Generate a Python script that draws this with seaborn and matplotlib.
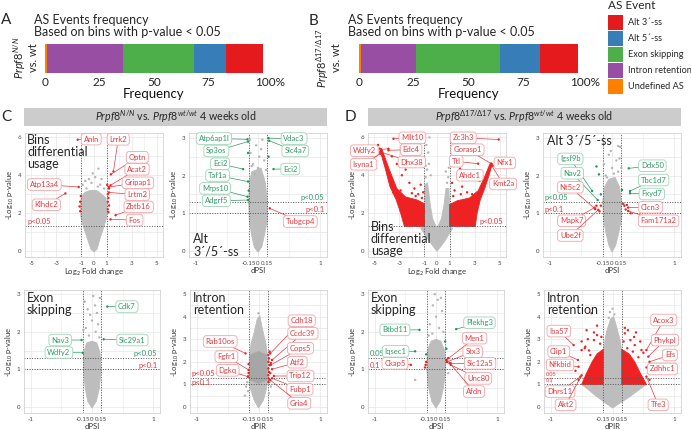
import matplotlib
matplotlib.use("Agg")
import matplotlib.pyplot as plt
import matplotlib.transforms as mtransforms
from matplotlib.patches import Rectangle
import numpy as np
import pandas as pd
import seaborn as sns

# ------------------------------------------------------------------ data
event_names = ["Alt 3´-ss", "Alt 5´-ss", "Exon skipping", "Intron retention", "Undefined AS"]
event_colors = ["#E41A1C", "#377EB8", "#4DAF4A", "#984EA3", "#FF7F00"]
stack_order = ["Undefined AS", "Intron retention", "Exon skipping", "Alt 5´-ss", "Alt 3´-ss"]
freq_NN = [17.0, 14.7, 32.5, 35.0, 0.8]
freq_D17 = [17.4, 18.2, 38.6, 25.0, 0.8]
freq_ticks = [0, 25, 50, 75, 100]
freq_ticklabels = ["0", "25", "50", "75", "100%"]

# ---- C1: bins differential usage, N/N
c1_cloud_x = [0.0, -0.25, -0.55, -0.85, -1.05, -1.08, -1.0, -0.7, -0.3, 0.2, 0.6, 0.95, 1.05, 1.02, 0.8, 0.5, 0.25]
c1_cloud_y = [-0.05, 0.1, 0.7, 1.3, 1.8, 2.5, 2.9, 3.1, 3.2, 3.2, 3.0, 2.8, 2.3, 1.8, 1.3, 0.7, 0.1]
c1_gray_x = [-0.6, 0.3, -0.2, 0.5, -0.9, 0.8, 0.1, -0.4, 0.35, -0.1, 0.6, -0.7]
c1_gray_y = [3.3, 3.4, 3.6, 3.5, 3.5, 3.3, 3.9, 3.8, 4.35, 4.1, 3.8, 3.7]
c1_red_x = [-1.05, -1.1, -1.15, -1.1, 1.1, 1.15, 1.1, 1.2, 1.1, 1.15, 1.2, 1.05]
c1_red_y = [2.9, 2.6, 2.35, 2.1, 3.0, 2.8, 2.6, 2.4, 2.2, 2.05, 3.3, 3.5]
c1_lab_names = ["Anln", "Lrrk2", "Optn", "Acat2", "Gripap1", "Lrtm2", "Zbtb16", "Fos", "Atp13a4", "Klhdc2"]
c1_lab_x = [-0.22, 1.93, 3.45, 3.43, 3.5, 3.45, 3.56, 3.24, -3.96, -3.8]
c1_lab_y = [5.91, 5.9, 4.95, 4.32, 3.6, 2.98, 2.33, 1.63, 3.51, 2.44]
c1_pt_x = [-1.3, 1.55, 1.35, 1.32, 1.19, 1.19, 1.72, 1.32, -1.22, -2.28]
c1_pt_y = [5.88, 4.2, 4.05, 3.47, 3.38, 3.09, 1.89, 1.67, 3.38, 3.04]
c1_lab_col = ["r"] * 10

# ---- C2: alt 3'/5' splice sites, N/N
c2_cloud_x = [0.0, -0.06, -0.1, -0.14, -0.15, -0.14, -0.1, 0.05, 0.12, 0.15, 0.15, 0.1, 0.06]
c2_cloud_y = [-0.03, 0.1, 0.4, 0.8, 1.3, 1.8, 2.1, 2.2, 1.8, 1.3, 0.8, 0.4, 0.1]
c2_gray_x = [-0.08, 0.02, -0.12, 0.1, -0.03, 0.07, -0.13, 0.0, 0.13, -0.05, 0.05, -0.1]
c2_gray_y = [2.3, 2.5, 2.6, 2.4, 2.8, 2.95, 2.95, 2.2, 2.15, 2.05, 2.7, 2.25]
c2_green_x = [-0.16, 0.17, -0.15]
c2_green_y = [2.6, 2.5, 1.6]
c2_lab_names = ["Atp6ap1l", "Sp3os", "Eci2", "Taf1a", "Mrps10", "Adgrf5", "Vdac3", "Slc4a7", "Eci2", "Tubgcp4"]
c2_lab_x = [-0.71, -0.67, -0.61, -0.65, -0.69, -0.67, 0.58, 0.6, 0.52, 0.68]
c2_lab_y = [2.98, 2.65, 2.31, 2.0, 1.66, 1.33, 2.98, 2.65, 2.17, 0.78]
c2_pt_x = [-0.17, -0.16, -0.24, -0.16, -0.17, -0.16, 0.17, 0.18, 0.25, 0.19]
c2_pt_y = [2.96, 2.9, 2.17, 1.84, 1.44, 1.35, 2.99, 2.92, 2.17, 1.13]
c2_lab_col = ["g"] * 9 + ["r"]

# ---- C3: exon skipping, N/N
c3_cloud_x = [0.0, -0.07, -0.11, -0.14, -0.13, -0.09, 0.0, 0.08, 0.13, 0.15, 0.12, 0.07]
c3_cloud_y = [-0.03, 0.15, 0.5, 1.0, 1.45, 1.7, 1.75, 1.7, 1.45, 1.0, 0.5, 0.15]
c3_gray_x = [-0.05, 0.06, -0.1, 0.1, 0.0, -0.07, 0.05, -0.12, 0.13, 0.02, -0.03, 0.12, -0.14, 0.08]
c3_gray_y = [1.9, 2.0, 2.1, 2.2, 2.3, 2.6, 2.7, 2.8, 2.9, 2.95, 2.45, 1.85, 2.05, 2.5]
c3_lab_names = ["Cdk7", "Nav3", "Slc29a1", "Wdfy2"]
c3_lab_x = [0.57, -0.52, 0.66, -0.54]
c3_lab_y = [2.67, 1.78, 1.78, 1.45]
c3_pt_x = [0.25, -0.17, 0.19, -0.15]
c3_pt_y = [2.67, 1.78, 1.8, 1.44]
c3_lab_col = ["g"] * 4

# ---- C4: intron retention, N/N
c4_cloud_x = [0.0, -0.07, -0.13, -0.15, -0.15, -0.12, -0.07, -0.02, 0.02, 0.06, 0.12, 0.15, 0.15, 0.13, 0.08]
c4_cloud_y = [-0.05, 0.3, 0.8, 1.3, 2.2, 2.8, 3.3, 3.9, 4.05, 3.5, 2.8, 2.2, 1.3, 0.8, 0.3]
c4_core_x = [-0.14, -0.13, 0.0, 0.13, 0.14, 0.0]
c4_core_y = [1.2, 2.3, 2.45, 2.3, 1.2, 1.05]
c4_gray_x = [-0.18, -0.2, -0.17, -0.22, 0.18, 0.2, 0.17, 0.0]
c4_gray_y = [1.1, 0.9, 0.7, 0.5, 1.1, 0.9, 0.6, 4.15]
c4_red_x = [0.16, 0.17, 0.16, 0.18, 0.16, 0.17, 0.16, 0.18, 0.19, 0.2, 0.16, 0.17, -0.16, -0.17, -0.16]
c4_red_y = [1.4, 1.55, 1.7, 1.85, 2.0, 2.15, 2.3, 2.45, 1.5, 1.95, 1.1, 1.25, 1.5, 1.35, 1.9]
c4_lab_names = ["Cdh18", "Ccdc39", "Cops5", "Atf2", "Trip12", "Fubp1", "Gria4", "Rab10os", "Fgfr1", "Dgkq"]
c4_lab_x = [0.7, 0.72, 0.68, 0.63, 0.68, 0.67, 0.66, -0.62, -0.52, -0.5]
c4_lab_y = [3.82, 3.26, 2.6, 1.98, 1.37, 0.78, 0.16, 2.9, 2.23, 1.62]
c4_pt_x = [0.19, 0.22, 0.2, 0.22, 0.25, 0.22, 0.19, -0.21, -0.16, -0.17]
c4_pt_y = [2.37, 2.08, 1.86, 1.67, 1.37, 1.27, 1.19, 2.37, 1.64, 1.34]
c4_lab_col = ["r"] * 10

# ---- D1: bins differential usage, d17/d17
d1_cloud_x = [0.0, -0.6, -1.3, -1.0, -1.0, -0.97, -0.75, -0.55, -0.35, 0.0, 0.35, 0.55, 0.72, 0.95, 1.0, 1.0, 1.25, 0.6]
d1_cloud_y = [-0.02, 0.5, 1.2, 1.3, 2.4, 3.5, 3.6, 2.5, 1.7, 1.2, 1.7, 2.4, 3.3, 3.3, 2.4, 1.3, 1.2, 0.5]
d1_redL_x = [-1.0, -2.6, -2.9, -3.25, -3.75, -4.1, -4.6, -4.4, -3.8, -3.2, -2.5, -1.6, -1.0]
d1_redL_y = [1.3, 1.3, 2.0, 2.7, 3.4, 4.3, 5.45, 5.4, 4.3, 3.3, 2.85, 2.7, 2.5]
d1_redR_x = [1.0, 3.05, 3.2, 3.45, 3.8, 4.15, 4.4, 4.25, 3.85, 3.3, 2.6, 1.6, 1.0]
d1_redR_y = [1.3, 1.3, 2.0, 2.7, 3.3, 4.0, 4.6, 4.65, 4.0, 3.2, 2.8, 2.65, 2.45]
d1_gray_x = [-0.9, -0.8, -0.95, -0.7, -0.85, -0.6, -0.9, 0.8, 0.9, 0.7, 0.95, -0.5, -0.65]
d1_gray_y = [3.9, 4.3, 4.8, 5.2, 5.6, 6.0, 4.5, 3.6, 3.9, 4.2, 4.4, 4.0, 4.6]
d1_red_x = [-3.2, -2.8, -2.2, -1.8, -1.3, -1.1, 2.5, 2.0, 1.4, 1.2, 3.0, -4.7, -3.6, -2.5, 1.8,
            -1.2, -1.5, -2.0, -2.9, 1.3, 1.9, 2.4, 3.4, -3.5, -3.0, -1.7, 2.8]
d1_red_y = [4.6, 4.0, 3.6, 3.3, 3.5, 3.1, 3.8, 3.4, 3.2, 3.6, 4.2, 5.6, 5.0, 4.3, 3.9,
            2.8, 3.0, 3.05, 3.2, 2.9, 3.0, 3.1, 3.7, 3.1, 2.6, 2.9, 3.0]
d1_lab_names = ["Mllt10", "Wdfy2", "Edc4", "Dhx38", "Isyna1", "Zc3h3", "Gorasp1", "Ttl", "Nfx1", "Ahdc1", "Kmt2a"]
d1_lab_x = [-1.96, -5.79, -2.06, -2.01, -5.85, 2.09, 2.43, 1.53, 5.4, 2.62, 5.27]
d1_lab_y = [5.98, 5.3, 5.35, 4.7, 4.58, 5.98, 5.35, 4.74, 4.65, 4.0, 3.54]
d1_pt_x = [-3.47, -3.87, -3.87, -4.52, -4.52, 4.92, 4.34, 3.28, 4.45, 1.83, 4.34]
d1_pt_y = [5.93, 5.4, 5.32, 5.23, 5.14, 5.89, 4.61, 4.61, 4.5, 4.35, 4.53]
d1_lab_col = ["r"] * 11

# ---- D2: alt 3'/5' splice sites, d17/d17
d2_cloud_x = [0.0, -0.05, -0.1, -0.14, -0.15, -0.12, -0.05, 0.05, 0.12, 0.15, 0.16, 0.11, 0.06]
d2_cloud_y = [-0.03, 0.15, 0.5, 0.9, 1.3, 1.7, 1.9, 1.95, 1.7, 1.3, 0.9, 0.5, 0.15]
d2_gray_x = [0.1, 0.13, -0.1, 0.0, 0.07, -0.05, 0.1, -0.13, 0.03, -0.08, 0.15, 0.12, -0.02]
d2_gray_y = [2.78, 2.76, 2.0, 2.2, 2.4, 2.55, 2.1, 2.3, 2.05, 1.95, 2.2, 2.45, 2.65]
d2_green_x = [-0.25, -0.21, -0.18, 0.16]
d2_green_y = [2.24, 2.03, 1.5, 1.62]
d2_red_x = [-0.25, -0.2, -0.18, 0.2, 0.22, 0.18, 0.3, 0.24]
d2_red_y = [1.2, 1.05, 1.2, 1.2, 1.1, 1.25, 1.0, 1.22]
d2_lab_names = ["Igsf9b", "Nav2", "Nt5c2", "Mapk7", "Ube2f", "Ddx50", "Tbc1d7", "Fxyd7", "Clcn3", "Fam171a2"]
d2_lab_x = [-0.67, -0.64, -0.67, -0.65, -0.67, 0.65, 0.67, 0.64, 0.62, 0.75]
d2_lab_y = [2.44, 2.06, 1.69, 0.8, 0.41, 2.26, 1.88, 1.51, 1.16, 0.8]
d2_pt_x = [-0.32, -0.23, -0.27, -0.28, -0.22, 0.27, 0.29, 0.29, 0.26, 0.26]
d2_pt_y = [1.59, 1.35, 1.11, 1.15, 1.09, 2.19, 1.59, 1.53, 1.15, 1.06]
d2_lab_col = ["g", "g", "r", "r", "r", "g", "g", "g", "r", "r"]

# ---- D3: exon skipping, d17/d17
d3_cloud_x = [0.0, -0.07, -0.12, -0.15, -0.14, -0.08, 0.0, 0.08, 0.14, 0.16, 0.12, 0.07]
d3_cloud_y = [-0.03, 0.15, 0.5, 1.0, 1.5, 1.75, 1.8, 1.75, 1.5, 1.0, 0.5, 0.15]
d3_gray_x = [-0.02, 0.08, -0.05, 0.1, 0.0, -0.1, 0.05, -0.06, 0.12, -0.12, -0.34, 0.2, 0.03]
d3_gray_y = [3.0, 2.9, 2.7, 2.55, 2.4, 2.2, 2.1, 1.95, 2.0, 1.9, 0.72, 0.9, 2.85]
d3_green_x = [0.15, 0.17, -0.16]
d3_green_y = [1.74, 1.55, 1.4]
d3_red_x = [-0.16, -0.18, 0.17, 0.18, 0.2, -0.17]
d3_red_y = [1.2, 1.05, 1.25, 1.2, 1.3, 1.12]
d3_lab_names = ["Btbd11", "Iqsec1", "Ckap5", "Plekhg3", "Men1", "Stx3", "Slc12a5", "Unc80", "Afdn"]
d3_lab_x = [-0.67, -0.66, -0.67, 0.71, 0.63, 0.6, 0.72, 0.69, 0.62]
d3_lab_y = [2.05, 1.48, 1.16, 2.24, 1.83, 1.47, 1.16, 0.76, 0.41]
d3_pt_x = [-0.27, -0.34, -0.41, 0.33, 0.17, 0.18, 0.24, 0.24, 0.22]
d3_pt_y = [2.05, 1.48, 1.12, 2.07, 1.25, 1.2, 1.16, 1.12, 1.17]
d3_lab_col = ["g", "g", "r", "g", "r", "r", "r", "r", "r"]

# ---- D4: intron retention, d17/d17
d4_cloud_x = [0.0, -0.25, -0.5, -0.15, -0.15, -0.1, -0.03, 0.02, 0.06, 0.12, 0.15, 0.15, 0.55, 0.28]
d4_cloud_y = [-0.05, 0.45, 1.0, 1.0, 2.5, 3.3, 3.9, 4.0, 3.6, 3.0, 2.5, 1.0, 1.0, 0.45]
d4_redL_x = [-0.15, -0.5, -0.42, -0.33, -0.25, -0.15]
d4_redL_y = [1.0, 1.0, 1.5, 2.0, 2.35, 2.55]
d4_redR_x = [0.15, 0.55, 0.45, 0.36, 0.27, 0.15]
d4_redR_y = [1.0, 1.0, 1.5, 2.0, 2.35, 2.55]
d4_gray_x = [0.0, -0.04, 0.03, -0.06]
d4_gray_y = [4.35, 4.2, 4.1, 3.95]
d4_red_x = [-0.34, -0.4, -0.45, -0.3, -0.25, 0.45, 0.35, 0.25, 0.5, 0.2, -0.5, -0.6, -0.55, 0.62, 0.6,
            -0.42, 0.38, -0.44, -0.5, -0.3, -0.25, 0.47, 0.29, 0.36, 0.2, -0.2, -0.18, 0.18, 0.24, -0.36,
            0.42, -0.38, 0.33]
d4_red_y = [4.15, 3.0, 2.6, 3.3, 3.6, 2.9, 3.1, 3.4, 2.4, 3.5, 2.9, 1.6, 1.2, 1.5, 1.2,
            3.4, 3.3, 2.67, 2.52, 2.96, 3.18, 2.52, 2.96, 2.74, 3.26, 2.8, 3.1, 2.9, 2.6, 2.3,
            2.2, 2.5, 2.45]
d4_lab_names = ["Iba57", "Clip1", "Nfkbid", "Dhrs11", "Akt2", "Acox3", "Phykpl", "Efs", "Zdhhc1", "Tfe3"]
d4_lab_x = [-0.87, -0.87, -0.85, -0.85, -0.76, 0.83, 0.85, 0.93, 0.81, 0.74]
d4_lab_y = [3.36, 2.45, 1.86, 0.68, 0.09, 3.85, 2.96, 2.3, 1.68, 0.09]
d4_pt_x = [-0.63, -0.56, -0.55, -0.52, -0.5, 0.55, 0.58, 0.6, 0.55, 0.55]
d4_pt_y = [2.74, 2.08, 1.78, 1.34, 1.4, 2.52, 2.23, 2.0, 1.75, 1.34]
d4_lab_col = ["r"] * 10

# ------------------------------------------------------------------ style
sns.set_theme(style="white")
plt.rcParams["font.family"] = ["Lato", "DejaVu Sans"]
plt.rcParams["mathtext.fontset"] = "custom"
plt.rcParams["mathtext.rm"] = "Lato"
plt.rcParams["mathtext.it"] = "Lato:italic"
plt.rcParams["mathtext.bf"] = "Lato:bold"

RED_T, RED_E, RED_P = "#E8383D", "#F4A3A5", "#EE2222"
GRN_T, GRN_E, GRN_P = "#2E9B66", "#9ED5B7", "#1A9850"
GRAY_P = "#B5B5B5"
W, H = 691, 430

fig = plt.figure(figsize=(W / 100, H / 100), dpi=100)
fig.patch.set_facecolor("white")


def rect(x0, y0, x1, y1):
    return [x0 / W, 1 - y1 / H, (x1 - x0) / W, (y1 - y0) / H]


# ------------------------------------------------------------------ bar charts
def draw_bar(ax, freqs):
    vals = dict(zip(event_names, freqs))
    cols = dict(zip(event_names, event_colors))
    cum, cums = 0.0, []
    for nm in stack_order:
        cum += vals[nm]
        cums.append((nm, cum))
    for nm, c in reversed(cums):
        df = pd.DataFrame({"sample": ["s"], "value": [c]})
        sns.barplot(data=df, x="value", y="sample", color=cols[nm], width=1.0,
                    saturation=1, ax=ax, orient="h", linewidth=0, errorbar=None)
    ax.set_xlim(0, 100)
    ax.set_ylim(0.5, -0.5)
    ax.set_yticks([])
    ax.set_ylabel("")
    ax.set_xticks(freq_ticks, freq_ticklabels)
    ax.tick_params(axis="x", length=0, pad=3, labelsize=8.5, labelcolor="#222222")
    lab = ax.get_xticklabels()[-1]
    lab.set_transform(lab.get_transform() + mtransforms.ScaledTranslation(0.07, 0, fig.dpi_scale_trans))
    ax.set_xlabel("Frequency", fontsize=9.5, labelpad=0, color="#111111")
    for s in ax.spines.values():
        s.set_visible(False)


axA = fig.add_axes(rect(45, 44, 263, 73))
draw_bar(axA, freq_NN)
axB = fig.add_axes(rect(359, 44, 578, 73))
draw_bar(axB, freq_D17)

title_txt = "AS Events frequency\nBased on bins with p-value < 0.05"
fig.text(34 / W, 1 - 26 / H, title_txt, fontsize=9, va="center", ha="left", linespacing=0.95)
fig.text(348 / W, 1 - 26 / H, title_txt, fontsize=9, va="center", ha="left", linespacing=0.95)

fig.text(25 / W, 1 - 58 / H, r"$\mathit{Prpf8}^{\mathit{N/N}}$" + "\nvs. wt", rotation=90,
         ha="center", va="center", fontsize=8, linespacing=0.95, multialignment="center")
fig.text(328 / W, 1 - 58 / H, r"$\mathit{Prpf8}^{\mathit{\Delta 17/\Delta 17}}$" + "\nvs. wt", rotation=90,
         ha="center", va="center", fontsize=8, linespacing=0.95, multialignment="center")

# legend
fig.text(608 / W, 1 - 5.5 / H, "AS Event", fontsize=8.5, ha="left", va="center")
for i, (nm, col) in enumerate(zip(event_names, event_colors)):
    top = 15 + 16 * i
    fig.add_artist(Rectangle((608 / W, 1 - (top + 14.5) / H), 15 / W, 14.5 / H,
                             transform=fig.transFigure, facecolor=col, edgecolor="none"))
    fig.text(628 / W, 1 - (top + 7.5) / H, nm, fontsize=6.6, ha="left", va="center")

# panel letters
for letter, (x, y) in {"A": (6, 20), "B": (313, 21), "C": (6, 117), "D": (350, 117)}.items():
    fig.text(x / W, 1 - y / H, letter, fontsize=11, ha="center", va="center")

# headers
fig.add_artist(Rectangle((24 / W, 1 - 126 / H), 303 / W, 18 / H, transform=fig.transFigure,
                         facecolor="#CCCCCC", edgecolor="none"))
fig.text(175.5 / W, 1 - 117 / H, r"$\mathit{Prpf8}^{\mathit{N/N}}$ vs. $\mathit{Prpf8}^{\mathit{wt/wt}}$ 4 weeks old",
         fontsize=7.7, ha="center", va="center")
fig.add_artist(Rectangle((368 / W, 1 - 126 / H), 313 / W, 18 / H, transform=fig.transFigure,
                         facecolor="#CCCCCC", edgecolor="none"))
fig.text(524.5 / W, 1 - 117 / H,
         r"$\mathit{Prpf8}^{\mathit{\Delta 17/\Delta 17}}$ vs. $\mathit{Prpf8}^{\mathit{wt/wt}}$ 4 weeks old",
         fontsize=7.7, ha="center", va="center")


# ------------------------------------------------------------------ volcano helpers
def setup_volcano(ax, kind, ylim, yticks):
    if kind == "bins":
        ax.set_xlim(-5.5, 5.5)
        ax.set_xticks([-5, -3, -1, 0, 1, 3, 5], ["-5", "-3", "-1", "0", "1", "3", "5"])
        minor_x = [-4, -2, 2, 4]
        vl = [-1, 1]
        hl = [1.301]
        xl = "Log$_2$ Fold change"
    else:
        ax.set_xlim(-1.11, 1.11)
        ax.set_xticks([-1, -0.15, 0, 0.15, 1], ["-1", "-0.15", "0", "0.15", "1"])
        minor_x = [-0.5, 0.5]
        vl = [-0.15, 0.15]
        hl = [1.301, 1.0]
        xl = kind
    ax.set_ylim(*ylim)
    ax.set_yticks(yticks)
    ax.set_yticklabels([str(t) for t in yticks])
    for t in list(ax.get_xticks()) + minor_x:
        ax.axvline(t, color="#EEEEEE" if t in minor_x else "#E6E6E6", lw=0.5, zorder=0)
    ys = list(yticks) + [t + 0.5 * (yticks[1] - yticks[0]) for t in yticks[:-1]]
    for t in ys:
        ax.axhline(t, color="#E6E6E6", lw=0.5, zorder=0)
    for v in vl:
        ax.axvline(v, color="#555555", lw=0.7, ls=(0, (1, 1.6)), zorder=2.5)
    for h in hl:
        ax.axhline(h, color="#555555", lw=0.7, ls=(0, (1, 1.6)), zorder=2.5)
    for s in ax.spines.values():
        s.set_color("#D2D2D2")
        s.set_linewidth(0.6)
    ax.tick_params(labelsize=4.4, length=1.5, width=0.5, color="#BBBBBB", pad=1.2, labelcolor="#444444")
    ax.set_xlabel(xl, fontsize=5.5, labelpad=0.8, color="#333333")
    ax.set_ylabel("-Log$_{10}$ p-value", fontsize=5.5, labelpad=1.5, color="#333333")


def fill_poly(ax, xs, ys, color, z=1):
    ax.fill(xs, ys, color=color, lw=0.6, ec=color, zorder=z, joinstyle="round")


def draw_points(ax, gray=((), ()), red=((), ()), green=((), ()), lab_x=(), lab_y=(), lab_col=()):
    rows = []
    for g, (xs, ys) in (("gray", gray), ("red", red), ("green", green)):
        rows += [(x, y, g) for x, y in zip(xs, ys)]
    rows += [(x, y, "red" if c == "r" else "green") for x, y, c in zip(lab_x, lab_y, lab_col)]
    df = pd.DataFrame(rows, columns=["x", "y", "grp"])
    sns.scatterplot(data=df, x="x", y="y", hue="grp",
                    palette={"gray": GRAY_P, "red": RED_P, "green": GRN_P},
                    s=3, linewidth=0, legend=False, ax=ax, zorder=3)


def add_labels(ax, names, lx, ly, px, py, cols, fs=5.5):
    for n, x, y, a, b, c in zip(names, lx, ly, px, py, cols):
        tc, ec = (RED_T, RED_E) if c == "r" else (GRN_T, GRN_E)
        ax.annotate(n, xy=(a, b), xytext=(x, y), textcoords="data", ha="center", va="center",
                    fontsize=fs, color=tc, zorder=6, annotation_clip=False,
                    bbox=dict(boxstyle="round,pad=0.3,rounding_size=0.4", fc="white", ec=ec, lw=0.6),
                    arrowprops=dict(arrowstyle="-", color=tc, lw=0.5, shrinkA=0, shrinkB=0.5))


def ptxt(ax, x, y, s, color, ha, fs=5.5):
    ax.text(x, y, s, color=color, ha=ha, va="center", fontsize=fs, zorder=4)


def ptitle(ax, s, top=True, x=0.02, step_px=12.0):
    # each line is its own text, stacked by a fixed pixel step
    lines = s.split("\n")
    n = len(lines)
    for i, line in enumerate(lines):
        if top:
            dy = -i * step_px
            y0, va = 0.985, "top"
        else:
            dy = (n - 1 - i) * step_px
            y0, va = 0.0, "bottom"
        tr = ax.transAxes + mtransforms.ScaledTranslation(0, dy / 100, fig.dpi_scale_trans)
        ax.text(x, y0, line, transform=tr, ha="left", va=va, fontsize=9, zorder=7)


GRAY_C = "#BDBDBD"
TOP = (132.5, 257)
BOT = (290, 413)

# ---- C1
ax = fig.add_axes(rect(25, TOP[0], 163, TOP[1]))
setup_volcano(ax, "bins", (-0.32, 6.26), [0, 2, 4, 6])
fill_poly(ax, c1_cloud_x, c1_cloud_y, GRAY_C)
draw_points(ax, (c1_gray_x, c1_gray_y), (c1_red_x, c1_red_y), lab_x=c1_pt_x, lab_y=c1_pt_y, lab_col=c1_lab_col)
add_labels(ax, c1_lab_names, c1_lab_x, c1_lab_y, c1_pt_x, c1_pt_y, c1_lab_col)
ptxt(ax, -5.3, 1.55, "p<0.05", RED_T, "left")
ptitle(ax, "Bins\ndifferential\nusage", True, 0.015)

# ---- C2
ax = fig.add_axes(rect(189, TOP[0], 327, TOP[1]))
setup_volcano(ax, "dPSI", (-0.16, 3.14), [0, 1, 2, 3])
fill_poly(ax, c2_cloud_x, c2_cloud_y, GRAY_C)
draw_points(ax, (c2_gray_x, c2_gray_y), green=(c2_green_x, c2_green_y), lab_x=c2_pt_x, lab_y=c2_pt_y, lab_col=c2_lab_col)
add_labels(ax, c2_lab_names, c2_lab_x, c2_lab_y, c2_pt_x, c2_pt_y, c2_lab_col)
ptxt(ax, 1.07, 1.42, "p<0.05", GRN_T, "right")
ptxt(ax, 1.07, 1.11, "p<0.1", RED_T, "right")
ptitle(ax, "Alt\n3´/5´-ss", False, 0.03)

# ---- C3
ax = fig.add_axes(rect(24, BOT[0], 160, BOT[1]))
setup_volcano(ax, "dPSI", (-0.16, 3.11), [0, 1, 2, 3])
fill_poly(ax, c3_cloud_x, c3_cloud_y, GRAY_C)
draw_points(ax, (c3_gray_x, c3_gray_y), lab_x=c3_pt_x, lab_y=c3_pt_y, lab_col=c3_lab_col)
add_labels(ax, c3_lab_names, c3_lab_x, c3_lab_y, c3_pt_x, c3_pt_y, c3_lab_col)
ptxt(ax, 1.07, 1.41, "p<0.05", GRN_T, "right")
ptxt(ax, 1.07, 1.1, "p<0.1", RED_T, "right")
ptitle(ax, "Exon\nskipping", True, 0.02)

# ---- C4
ax = fig.add_axes(rect(190, BOT[0], 327, BOT[1]))
setup_volcano(ax, "dPIR", (-0.27, 5.18), [0, 1, 2, 3, 4, 5])
fill_poly(ax, c4_cloud_x, c4_cloud_y, GRAY_C)
fill_poly(ax, c4_core_x, c4_core_y, "#A6A6A6", z=1.2)
draw_points(ax, (c4_gray_x, c4_gray_y), (c4_red_x, c4_red_y), lab_x=c4_pt_x, lab_y=c4_pt_y, lab_col=c4_lab_col)
add_labels(ax, c4_lab_names, c4_lab_x, c4_lab_y, c4_pt_x, c4_pt_y, c4_lab_col)
ptxt(ax, -1.09, 1.49, "p<0.05", RED_T, "left")
ptxt(ax, -1.09, 1.08, "p<0.1", RED_T, "left")
ptitle(ax, "Intron\nretention", True, 0.02)

# ---- D1
ax = fig.add_axes(rect(368, TOP[0], 506, TOP[1]))
setup_volcano(ax, "bins", (-0.32, 6.26), [0, 2, 4, 6])
fill_poly(ax, d1_cloud_x, d1_cloud_y, GRAY_C)
fill_poly(ax, d1_redL_x, d1_redL_y, RED_P, z=1.5)
fill_poly(ax, d1_redR_x, d1_redR_y, RED_P, z=1.5)
draw_points(ax, (d1_gray_x, d1_gray_y), (d1_red_x, d1_red_y), lab_x=d1_pt_x, lab_y=d1_pt_y, lab_col=d1_lab_col)
add_labels(ax, d1_lab_names, d1_lab_x, d1_lab_y, d1_pt_x, d1_pt_y, d1_lab_col)
ptxt(ax, 5.3, 1.54, "p<0.05", RED_T, "right")
ptitle(ax, "Bins\ndifferential\nusage", False, 0.02)

# ---- D2
ax = fig.add_axes(rect(543, TOP[0], 681, TOP[1]))
setup_volcano(ax, "dPSI", (-0.16, 3.14), [0, 1, 2, 3])
fill_poly(ax, d2_cloud_x, d2_cloud_y, GRAY_C)
draw_points(ax, (d2_gray_x, d2_gray_y), (d2_red_x, d2_red_y), (d2_green_x, d2_green_y),
            lab_x=d2_pt_x, lab_y=d2_pt_y, lab_col=d2_lab_col)
add_labels(ax, d2_lab_names, d2_lab_x, d2_lab_y, d2_pt_x, d2_pt_y, d2_lab_col)
ptxt(ax, -1.09, 1.42, "p<0.05", GRN_T, "left")
ptxt(ax, -1.09, 1.11, "p<0.1", RED_T, "left")
ptitle(ax, "Alt 3´/5´-ss", True, 0.03)

# ---- D3
ax = fig.add_axes(rect(368, BOT[0], 504, BOT[1]))
setup_volcano(ax, "dPSI", (-0.16, 3.11), [0, 1, 2, 3])
fill_poly(ax, d3_cloud_x, d3_cloud_y, GRAY_C)
draw_points(ax, (d3_gray_x, d3_gray_y), (d3_red_x, d3_red_y), (d3_green_x, d3_green_y),
            lab_x=d3_pt_x, lab_y=d3_pt_y, lab_col=d3_lab_col)
add_labels(ax, d3_lab_names, d3_lab_x, d3_lab_y, d3_pt_x, d3_pt_y, d3_lab_col)
ptxt(ax, -1.08, 1.41, "0.05", GRN_T, "left")
ptxt(ax, -1.08, 1.1, "0.1", RED_T, "left")
ptitle(ax, "Exon\nskipping", True, 0.02)

# ---- D4
ax = fig.add_axes(rect(544, BOT[0], 681, BOT[1]))
setup_volcano(ax, "dPIR", (-0.27, 5.18), [0, 1, 2, 3, 4, 5])
fill_poly(ax, d4_cloud_x, d4_cloud_y, GRAY_C)
fill_poly(ax, d4_redL_x, d4_redL_y, RED_P, z=1.5)
fill_poly(ax, d4_redR_x, d4_redR_y, RED_P, z=1.5)
draw_points(ax, (d4_gray_x, d4_gray_y), (d4_red_x, d4_red_y), lab_x=d4_pt_x, lab_y=d4_pt_y, lab_col=d4_lab_col)
add_labels(ax, d4_lab_names, d4_lab_x, d4_lab_y, d4_pt_x, d4_pt_y, d4_lab_col)
ptxt(ax, -1.08, 1.45, "0.05", RED_T, "left", fs=4)
ptxt(ax, -1.08, 1.15, "0.1", RED_T, "left", fs=4)
ptitle(ax, "Intron\nretention", True, 0.02)

fig.savefig("out.png", dpi=100)
